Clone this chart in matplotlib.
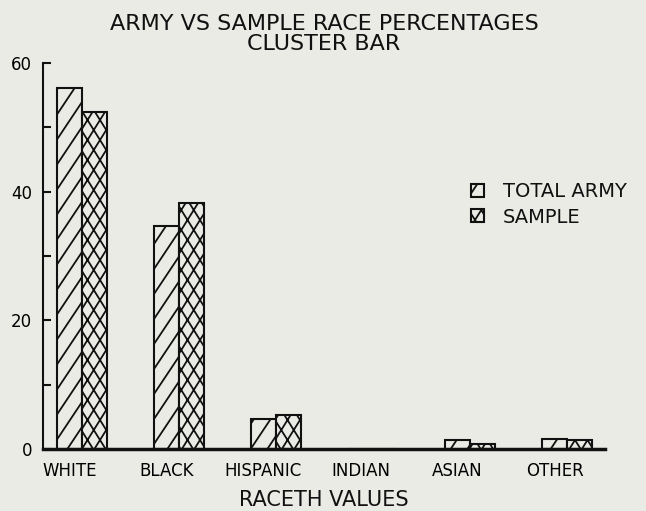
import warnings
import numpy as np
import matplotlib
matplotlib.use("Agg")
import matplotlib.pyplot as plt
import matplotlib.hatch as mhatch
from matplotlib.path import Path

warnings.simplefilter("ignore")

categories = ["WHITE", "BLACK", "HISPANIC", "INDIAN", "ASIAN", "OTHER"]
total_army = [56.1, 34.6, 4.6, 0.0, 1.4, 1.5]
sample = [52.4, 38.3, 5.3, 0.0, 0.8, 1.4]
series_names = ["TOTAL ARMY", "SAMPLE"]


class SteepHatch(mhatch.HatchPatternBase):
    """steep plotter-style hatching: 'y' = steep /, 'k' = steep cross"""

    def __init__(self, hatch, density):
        self.segs = []
        # (lines per tile, x shift per tile height) -> slope = 1 / shift
        if "y" in hatch:
            self._add(6, 4, forward=True)
        if "k" in hatch:
            self._add(8, 5, forward=True)
            self._add(8, 5, forward=False)
        self.num_vertices = 2 * len(self.segs)

    def _add(self, n, shift_steps, forward):
        shift = shift_steps / n
        for k in range(-shift_steps - 1, n + shift_steps + 1):
            x0 = k / n
            if forward:
                self.segs.append(((x0, 0.0), (x0 + shift, 1.0)))
            else:
                self.segs.append(((x0, 0.0), (x0 - shift, 1.0)))

    def set_vertices_and_codes(self, vertices, codes):
        for i, (p0, p1) in enumerate(self.segs):
            vertices[2 * i] = p0
            vertices[2 * i + 1] = p1
            codes[2 * i] = Path.MOVETO
            codes[2 * i + 1] = Path.LINETO


mhatch._hatch_types.append(SteepHatch)

bg = "#ebebe6"
plt.rcParams["font.family"] = "DejaVu Sans"
plt.rcParams["hatch.linewidth"] = 1.3
plt.rcParams["text.color"] = "#111111"

fig = plt.figure(figsize=(6.46, 5.11), dpi=100, facecolor=bg)
ax = fig.add_axes([43 / 646, 1 - 449 / 511, (605 - 43) / 646, (449 - 63) / 511])
ax.set_facecolor(bg)

x = np.arange(len(categories))
w = 0.258
ax.bar(x - w / 2, total_army, w, facecolor=bg, edgecolor="#111111",
       linewidth=1.5, hatch="y", label=series_names[0])
ax.bar(x + w / 2, sample, w, facecolor=bg, edgecolor="#111111",
       linewidth=1.5, hatch="k", label=series_names[1])

ax.set_xlim(-0.402, 5.39)
ax.set_ylim(0, 60)

for s in ["top", "right"]:
    ax.spines[s].set_visible(False)
ax.spines["left"].set_linewidth(1.5)
ax.spines["bottom"].set_linewidth(2.5)
ax.spines["left"].set_color("#111111")
ax.spines["bottom"].set_color("#111111")

ax.set_yticks([0, 20, 40, 60])
ax.set_yticks([10, 30, 50], minor=True)
ax.tick_params(axis="y", which="both", direction="in", length=6, width=1.5,
               color="#111111")
ax.tick_params(axis="y", which="major", labelsize=12, pad=8)

ax.set_xticks(x - 0.13)
ax.set_xticklabels(categories)
ax.tick_params(axis="x", length=0, labelsize=12, pad=9)

fig.text(324 / 646, 1 - 30 / 511, "ARMY VS SAMPLE RACE PERCENTAGES",
         ha="center", va="baseline", fontsize=16)
fig.text(324 / 646, 1 - 50 / 511, "CLUSTER BAR",
         ha="center", va="baseline", fontsize=16)
fig.text(324 / 646, 1 - 506 / 511, "RACETH VALUES",
         ha="center", va="baseline", fontsize=15)

ax.legend(loc="upper left", bbox_to_anchor=(471 / 646, 1 - 182 / 511),
          bbox_transform=fig.transFigure, frameon=False, fontsize=14,
          handlelength=0.65, handleheight=0.65, handletextpad=1.0,
          borderpad=0, borderaxespad=0, labelspacing=0.35)

fig.savefig("out.png", dpi=100, facecolor=bg)
